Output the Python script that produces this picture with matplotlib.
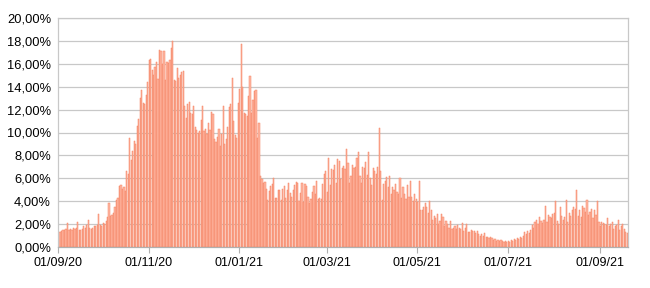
import matplotlib
matplotlib.use("Agg")
import matplotlib.pyplot as plt
import matplotlib.dates as mdates
from matplotlib.ticker import FuncFormatter, MultipleLocator
import pandas as pd
import numpy as np

# Daily positivity rate (%) per month
sep20 = [1.2,1.3,1.4,1.5,1.5,1.6,2.1,1.5,1.6,1.5,1.7,1.6,1.7,2.2,1.5,1.5,1.6,1.8,1.7,1.9,
         2.4,1.7,1.6,1.7,1.8,1.8,1.9,2.9,1.9,1.8]
oct20 = [2.1,2.0,2.3,2.6,3.8,2.7,2.8,3.0,3.5,4.1,4.3,5.3,5.4,5.1,5.2,4.9,6.6,6.4,9.5,7.6,
         8.4,9.3,9.0,10.6,11.2,13.0,13.7,12.6,12.5,13.3,14.4]
nov20 = [16.3,16.4,15.5,15.0,15.7,16.2,14.7,17.2,17.1,16.0,17.1,14.6,16.2,16.1,16.3,17.4,
         18.0,14.6,14.5,15.6,14.8,15.0,15.3,15.4,12.3,11.3,12.5,12.7,11.7,11.6]
dec20 = [12.3,10.5,10.2,10.0,10.1,11.1,12.3,10.1,10.3,9.9,10.8,10.2,11.8,11.6,9.4,9.2,9.6,
         10.3,8.8,9.9,12.3,9.0,9.4,10.5,12.2,12.5,14.8,11.0,9.8,9.5,12.6]
jan21 = [13.8,17.7,14.0,11.7,11.6,11.4,13.2,14.9,11.7,12.8,13.6,13.7,9.5,10.8,6.2,5.9,5.6,
         5.7,5.1,4.1,4.9,5.3,5.5,6.0,4.3,4.3,5.0,5.0,4.1,5.1,5.3]
feb21 = [4.3,5.0,5.6,4.7,4.4,5.0,5.4,5.7,5.6,4.0,4.7,5.6,3.9,5.5,5.3,4.4,3.8,4.2,4.8,5.3,
         4.6,5.8,4.2,4.3,4.2,5.5,6.4,6.6]
mar21 = [4.8,7.8,5.4,6.8,6.7,7.2,5.6,7.7,7.5,5.9,6.9,7.1,6.8,8.6,7.3,5.6,6.2,7.2,6.9,7.0,
         7.8,8.3,6.2,5.6,7.0,6.9,7.4,6.3,8.3,6.0,5.4]
apr21 = [6.9,6.6,6.4,7.0,10.4,6.6,4.1,5.5,5.8,6.1,5.2,6.2,4.6,5.2,5.0,5.5,4.8,4.6,6.0,4.3,
         5.2,4.6,4.2,5.4,4.4,5.8,4.4,4.0,4.6,4.2]
may21 = [3.9,5.8,3.2,3.2,3.5,3.8,3.5,3.0,4.0,3.2,2.4,2.7,2.5,2.9,2.0,2.3,2.9,2.6,1.8,2.3,
         2.0,1.7,2.3,1.6,1.7,1.8,1.6,1.9,1.7,1.6,2.1]
jun21 = [1.4,1.7,2.0,1.3,1.3,1.5,1.4,1.4,1.2,1.4,1.1,1.0,1.1,1.0,1.2,0.9,0.9,0.8,0.9,0.8,
         0.6,0.7,0.5,0.6,0.5,0.6,0.5,0.4,0.5,0.4]
jul21 = [0.5,0.4,0.6,0.5,0.7,0.6,0.8,0.7,0.9,0.8,1.0,1.3,1.1,1.4,1.2,1.5,1.9,1.7,2.2,2.4,
         2.0,2.6,2.3,2.1,2.4,3.6,2.2,2.8,2.6,2.5,2.9]
aug21 = [3.0,4.0,2.3,2.0,3.5,2.7,2.4,2.6,4.1,2.2,3.0,2.7,3.2,3.5,3.3,5.0,2.7,3.2,2.6,3.6,
         3.4,3.1,4.1,2.8,3.1,3.3,2.5,3.2,2.8,4.0,2.2]
sep21 = [1.8,2.2,2.1,2.0,1.9,2.5,1.8,2.0,2.2,1.6,1.8,1.9,2.4,1.5,1.8,2.0,1.6,1.3,1.2]

start_date = "2020-09-01"
tick_dates = ["2020-09-01", "2020-11-01", "2021-01-01", "2021-03-01",
              "2021-05-01", "2021-07-01", "2021-09-01"]
tick_labels = ["01/09/20", "01/11/20", "01/01/21", "01/03/21",
               "01/05/21", "01/07/21", "01/09/21"]

values = sep20 + oct20 + nov20 + dec20 + jan21 + feb21 + mar21 + apr21 + may21 + jun21 + jul21 + aug21 + sep21
dates = pd.date_range(start_date, periods=len(values), freq="D")

plt.rcParams['font.family'] = ['Liberation Sans', 'DejaVu Sans']

fig = plt.figure(figsize=(6.5, 2.88), dpi=100)
ax = fig.add_axes([58/650, 1-247/288, (628-58)/650, (247-18)/288])

xd = mdates.date2num(dates)
ax.bar(xd, values, width=0.8, align='edge', color='#ffb9a6',
       edgecolor='#f4815f', linewidth=0.35, zorder=2)

ax.set_ylim(0, 20)
ax.yaxis.set_major_locator(MultipleLocator(2))
ax.yaxis.set_major_formatter(FuncFormatter(lambda v, p: f"{v:.2f}%".replace('.', ',')))
ax.grid(axis='y', color='#c8c8c8', linewidth=0.9, zorder=0)
ax.set_axisbelow(True)

x0 = mdates.date2num(pd.Timestamp(start_date))
x1 = xd[-1] + 1
ax.set_xlim(x0, x1)
ax.set_xticks(mdates.date2num(pd.to_datetime(tick_dates)))
ax.set_xticklabels(tick_labels)

for s in ['left', 'right', 'top', 'bottom']:
    ax.spines[s].set_color('#c8c8c8')
    ax.spines[s].set_linewidth(0.9)
ax.spines['bottom'].set_color('#b0b0b0')

ax.tick_params(axis='y', length=0, pad=5, labelsize=9.3, colors='#000000')
ax.tick_params(axis='x', length=4, width=0.8, color='#b0b0b0', pad=3, labelsize=9.0)

fig.savefig("out.png", dpi=100)
